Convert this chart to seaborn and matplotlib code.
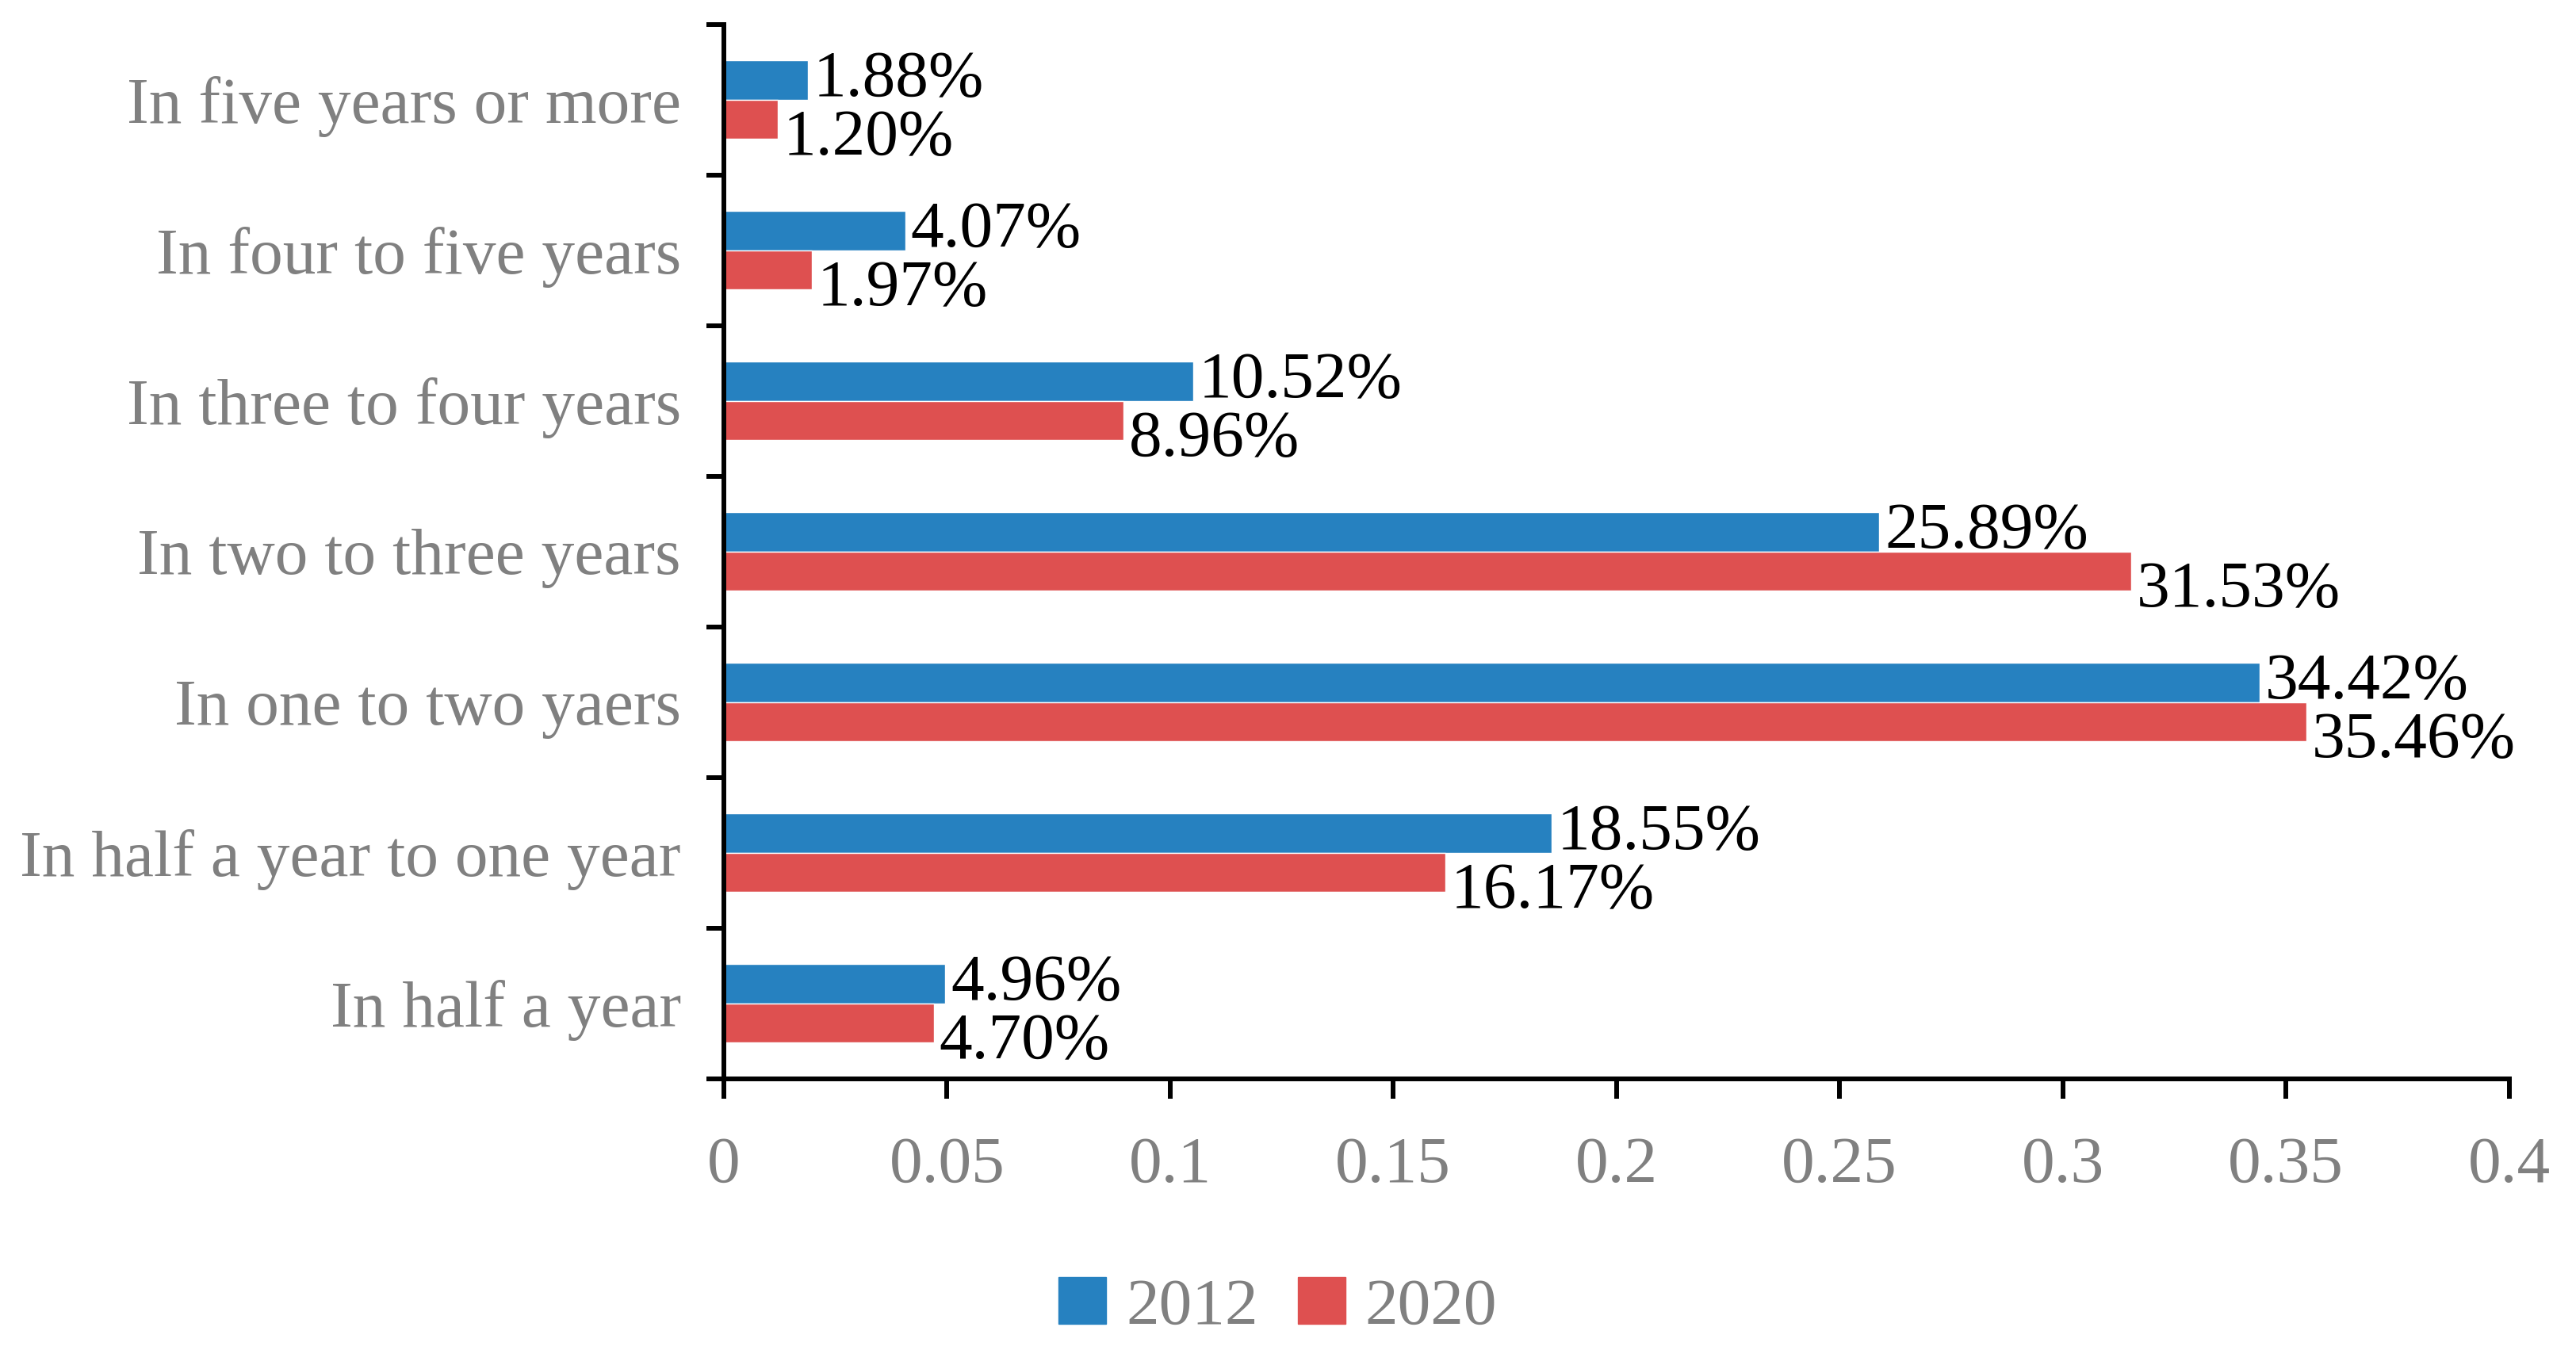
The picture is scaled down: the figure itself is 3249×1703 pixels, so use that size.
import numpy as np
import pandas as pd
import seaborn as sns
import matplotlib.pyplot as plt
from matplotlib.ticker import FixedLocator

# Data (top to bottom)
categories = ["In five years or more", "In four to five years", "In three to four years",
              "In two to three years", "In one to two yaers", "In half a year to one year",
              "In half a year"]
years = ["2012", "2020"]
share_2012 = [0.0188, 0.0407, 0.1052, 0.2589, 0.3442, 0.1855, 0.0496]
share_2020 = [0.0120, 0.0197, 0.0896, 0.3153, 0.3546, 0.1617, 0.0470]
xticks = [0, 0.05, 0.1, 0.15, 0.2, 0.25, 0.3, 0.35, 0.4]
xtick_labels = ["0", "0.05", "0.1", "0.15", "0.2", "0.25", "0.3", "0.35", "0.4"]

colors = {"2012": "#2681C0", "2020": "#DE5050"}
grey = "#808080"
fs = 60

df = pd.DataFrame({
    "Category": categories * 2,
    "Year": ["2012"] * len(categories) + ["2020"] * len(categories),
    "Share": share_2012 + share_2020,
})

sns.set_style("white")
plt.rcParams['font.family'] = ['Liberation Serif', 'DejaVu Serif']

fig = plt.figure(figsize=(32.49, 17.03), dpi=100)
ax = fig.add_axes([0.281, 0.201, 0.693, 0.781])

bar_w = 0.52
sns.barplot(data=df, x="Share", y="Category", hue="Year", order=categories,
            hue_order=years, palette=colors, width=bar_w, saturation=1,
            errorbar=None, ax=ax, legend=False)

# value labels
half = bar_w / 2
for i, (v1, v2) in enumerate(zip(share_2012, share_2020)):
    ax.text(v1 + 0.0012, i - half / 2, f"{v1*100:.2f}%", va="center", ha="left",
            fontsize=fs, color="black")
    ax.text(v2 + 0.0012, i + half * 1.0, f"{v2*100:.2f}%", va="center", ha="left",
            fontsize=fs, color="black")

ax.set_xlim(0, 0.4)
ax.set_ylim(len(categories) - 0.5, -0.5)
ax.set_xticks(xticks)
ax.set_xticklabels(xtick_labels)
ax.set_xlabel("")
ax.set_ylabel("")

ax.yaxis.set_minor_locator(FixedLocator(np.arange(-0.5, len(categories), 1.0)))
ax.tick_params(axis="y", which="major", length=0, pad=39, labelsize=fs, labelcolor=grey)
ax.tick_params(axis="y", which="minor", left=True, length=16, width=4.3, color="black")
ax.tick_params(axis="x", which="major", bottom=True, length=18, width=4.3, color="black",
               pad=34, labelsize=fs, labelcolor=grey)

for side in ["top", "right"]:
    ax.spines[side].set_visible(False)
for side in ["left", "bottom"]:
    ax.spines[side].set_color("black")
    ax.spines[side].set_linewidth(4.3)

handles = [plt.Rectangle((0, 0), 1, 1, color=colors[y]) for y in years]
leg = fig.legend(handles, years, loc="lower center", bbox_to_anchor=(0.496, -0.035),
                 ncol=2, frameon=False, fontsize=fs, handlelength=0.72, handleheight=0.72,
                 handletextpad=0.3, columnspacing=0.6)
for t in leg.get_texts():
    t.set_color(grey)

fig.savefig("out.png", dpi=100, facecolor="white")
